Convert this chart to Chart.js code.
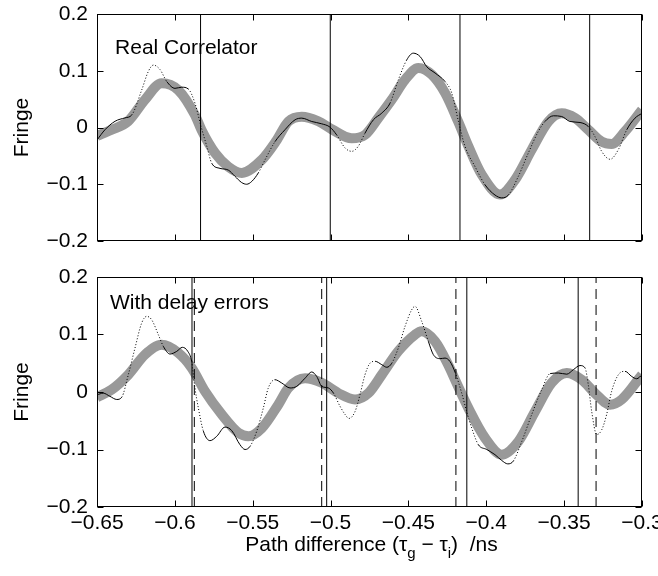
<!DOCTYPE html>
<html><head><meta charset="utf-8">
<script src="https://cdn.jsdelivr.net/npm/chart.js@4.4.1/dist/chart.umd.min.js"></script>
<style>
html,body{margin:0;padding:0;background:#fff;width:658px;height:576px;overflow:hidden}
#c1{position:absolute;left:0;top:0}
#c2{position:absolute;left:0;top:262px}
</style></head><body>
<canvas id="c1" width="658" height="262"></canvas>
<canvas id="c2" width="658" height="314"></canvas>
<script>
// ---------- data ----------
const xTicks = [-0.65,-0.6,-0.55,-0.5,-0.45,-0.4,-0.35,-0.3];
const yTicks = [-0.2,-0.1,0,0.1,0.2];
const xTitleParts = ['Path difference (τ','g',' − τ','i',')  /ns'];
const yTitle = 'Fringe';
const topLabel = 'Real Correlator';
const bottomLabel = 'With delay errors';

// top panel: model fringe (thick grey)
const topGray = [[-0.65,-0.015],[-0.6406,-0.004],[-0.63,0.011],[-0.6192,0.049],[-0.6085,0.078],[-0.5978,0.066],[-0.5871,0.022],[-0.5828,-0.005],[-0.5742,-0.045],[-0.5657,-0.069],[-0.557,-0.080],[-0.5442,-0.057],[-0.535,-0.024],[-0.5271,0.0106],[-0.5185,0.019],[-0.5079,0.011],[-0.4993,-0.003],[-0.4864,-0.019],[-0.4779,-0.013],[-0.4693,0.017],[-0.4607,0.049],[-0.4522,0.084],[-0.4436,0.105],[-0.435,0.093],[-0.4265,0.061],[-0.418,0.010],[-0.4115,-0.033],[-0.4029,-0.083],[-0.3912,-0.118],[-0.3815,-0.092],[-0.3708,-0.039],[-0.3601,0.0106],[-0.3516,0.025],[-0.343,0.0166],[-0.3345,-0.004],[-0.3259,-0.025],[-0.3195,-0.029],[-0.3109,-0.007],[-0.3,0.031]];
// top panel: correlator output (thin)
const topThin = [[-0.65,-0.022],[-0.6449,-0.004],[-0.6384,0.011],[-0.632,0.017],[-0.6277,0.022],[-0.6213,0.066],[-0.617,0.099],[-0.6138,0.110],[-0.6095,0.102],[-0.6052,0.081],[-0.5999,0.069],[-0.5956,0.071],[-0.5914,0.068],[-0.5871,0.043],[-0.5832,0.002],[-0.5795,-0.033],[-0.5763,-0.063],[-0.571,-0.072],[-0.5657,-0.075],[-0.5614,-0.086],[-0.5571,-0.097],[-0.5539,-0.100],[-0.5506,-0.095],[-0.5464,-0.080],[-0.5421,-0.057],[-0.5357,-0.025],[-0.5293,-0.004],[-0.5228,0.0136],[-0.5185,0.0165],[-0.5121,0.0106],[-0.5057,0.0065],[-0.5004,0.0007],[-0.4961,-0.013],[-0.4907,-0.036],[-0.4864,-0.042],[-0.4822,-0.033],[-0.4779,-0.010],[-0.4725,0.0136],[-0.4671,0.0254],[-0.4618,0.043],[-0.4565,0.084],[-0.4511,0.119],[-0.4469,0.131],[-0.4425,0.125],[-0.4382,0.107],[-0.4329,0.096],[-0.4265,0.081],[-0.4222,0.061],[-0.418,0.012],[-0.4137,-0.033],[-0.4072,-0.069],[-0.4008,-0.101],[-0.3944,-0.119],[-0.3901,-0.124],[-0.3858,-0.119],[-0.3794,-0.086],[-0.373,-0.045],[-0.3666,-0.007],[-0.3623,0.0106],[-0.3569,0.0206],[-0.3516,0.0194],[-0.3462,0.0106],[-0.3398,0.0088],[-0.3345,0.0018],[-0.3302,-0.016],[-0.3259,-0.042],[-0.3205,-0.056],[-0.3152,-0.039],[-0.3098,-0.004],[-0.3045,0.0165],[-0.3,0.025]];
const topSolidRanges = [[-0.65,-0.627],[-0.605,-0.59],[-0.575,-0.546],[-0.535,-0.497],[-0.478,-0.462],[-0.45,-0.425],[-0.4,-0.385],[-0.363,-0.333],[-0.31,-0.3]];
const topLines = [-0.5835,-0.5002,-0.4169,-0.3336];

// bottom panel
const botGray = [[-0.65,-0.009],[-0.6406,0.004],[-0.6299,0.030],[-0.6192,0.065],[-0.6085,0.082],[-0.5978,0.068],[-0.5892,0.042],[-0.5806,0.001],[-0.5699,-0.039],[-0.5592,-0.071],[-0.5528,-0.077],[-0.5442,-0.063],[-0.5336,-0.022],[-0.5271,0.007],[-0.5164,0.024],[-0.5057,0.016],[-0.495,-0.002],[-0.4843,-0.013],[-0.4757,-0.002],[-0.4671,0.030],[-0.4565,0.071],[-0.4458,0.0997],[-0.4415,0.1056],[-0.4329,0.088],[-0.4244,0.047],[-0.419,0.015],[-0.4115,-0.028],[-0.4008,-0.080],[-0.3901,-0.109],[-0.3794,-0.086],[-0.3687,-0.034],[-0.358,0.016],[-0.3483,0.033],[-0.3387,0.0214],[-0.3302,-0.002],[-0.3205,-0.022],[-0.313,-0.013],[-0.3,0.030]];
const botThin = [[-0.65,-0.005],[-0.646,-0.002],[-0.6417,-0.0075],[-0.6373,-0.013],[-0.6341,-0.009],[-0.6299,0.030],[-0.6256,0.0765],[-0.6213,0.12],[-0.6181,0.1316],[-0.6149,0.1257],[-0.6106,0.0997],[-0.6074,0.0794],[-0.6031,0.066],[-0.5988,0.0707],[-0.5952,0.0777],[-0.5917,0.0707],[-0.5892,0.053],[-0.5871,0.007],[-0.5849,-0.028],[-0.5817,-0.068],[-0.5774,-0.0846],[-0.5731,-0.077],[-0.5678,-0.061],[-0.5635,-0.067],[-0.5582,-0.0916],[-0.5549,-0.100],[-0.5517,-0.0945],[-0.5474,-0.068],[-0.5432,-0.028],[-0.54,0.007],[-0.5357,0.0214],[-0.5314,0.0157],[-0.526,0.007],[-0.5217,0.0099],[-0.5164,0.024],[-0.5121,0.0348],[-0.5089,0.027],[-0.5057,0.0099],[-0.5014,0.007],[-0.4982,-0.0017],[-0.4939,-0.025],[-0.4907,-0.039],[-0.4882,-0.046],[-0.4843,-0.034],[-0.4811,-0.0046],[-0.4779,0.030],[-0.4747,0.050],[-0.4714,0.0534],[-0.4671,0.0475],[-0.4639,0.043],[-0.4607,0.050],[-0.4565,0.0765],[-0.4522,0.114],[-0.4479,0.143],[-0.4458,0.149],[-0.4415,0.123],[-0.4372,0.088],[-0.434,0.065],[-0.4297,0.058],[-0.4265,0.059],[-0.4233,0.053],[-0.42,0.034],[-0.4158,-0.0017],[-0.4126,-0.034],[-0.4093,-0.063],[-0.4051,-0.0916],[-0.3997,-0.1],[-0.3944,-0.109],[-0.3901,-0.119],[-0.3862,-0.125],[-0.3826,-0.12],[-0.3772,-0.086],[-0.3708,-0.039],[-0.3644,0.004],[-0.359,0.032],[-0.3537,0.033],[-0.3483,0.031],[-0.344,0.039],[-0.3398,0.046],[-0.3366,0.042],[-0.3345,0.0127],[-0.3323,-0.034],[-0.3291,-0.074],[-0.3259,-0.066],[-0.3227,-0.039],[-0.3195,0.0012],[-0.3152,0.030],[-0.3109,0.036],[-0.3066,0.027],[-0.3034,0.023],[-0.3,0.030]];
const botSolidRanges = [[-0.65,-0.633],[-0.607,-0.59],[-0.58,-0.552],[-0.537,-0.497],[-0.473,-0.46],[-0.436,-0.418],[-0.407,-0.382],[-0.36,-0.336],[-0.312,-0.3]];
const botLinesSolid = [-0.589,-0.5025,-0.4125,-0.341];
const botLinesDashed = [-0.5875,-0.5057,-0.4195,-0.3295];

// ---------- helpers ----------
const FONT = '"Liberation Sans", Arial, Helvetica, sans-serif';
Chart.defaults.font.family = FONT;
const fmt = v => (v < 0 ? '\u2212' : '') + String(Math.abs(v));
const pts = arr => arr.map(p => ({x: p[0], y: p[1]}));
const dashFor = ranges => ctx => {
  const m = (ctx.p0.parsed.x + ctx.p1.parsed.x) / 2;
  return ranges.some(r => m >= r[0] && m <= r[1]) ? [] : [1, 2];
};
const vline = (v, dash) => ({
  data: [{x: v, y: -0.2}, {x: v, y: 0.2}],
  borderColor: '#000', borderWidth: 1, borderDash: dash || [],
  pointRadius: 0, tension: 0, order: 1
});

const decoPlugin = {
  id: 'deco',
  afterDatasetsDraw(chart, args, o) {
    const ctx = chart.ctx, a = chart.chartArea;
    const xs = chart.scales.x, ys = chart.scales.y;
    ctx.save();
    ctx.strokeStyle = '#000'; ctx.lineWidth = 1;
    const L = Math.round(a.left) + 0.5, R = Math.round(a.right) - 0.5;
    const T = Math.round(a.top) + 0.5, B = Math.round(a.bottom) - 0.5;
    ctx.strokeRect(L, T, R - L, B - T);
    const tl = 6;
    ctx.beginPath();
    xTicks.forEach(v => {
      const px = Math.round(xs.getPixelForValue(v)) + 0.5;
      ctx.moveTo(px, B); ctx.lineTo(px, B - tl);
      ctx.moveTo(px, T); ctx.lineTo(px, T + tl);
    });
    yTicks.forEach(v => {
      const py = Math.round(ys.getPixelForValue(v)) + 0.5;
      ctx.moveTo(L, py); ctx.lineTo(L + tl, py);
      ctx.moveTo(R, py); ctx.lineTo(R - tl, py);
    });
    ctx.stroke();
    // panel label
    ctx.fillStyle = '#000';
    ctx.font = '21px ' + FONT;
    ctx.textAlign = 'left'; ctx.textBaseline = 'alphabetic';
    ctx.fillText(o.label, xs.getPixelForValue(o.lx), ys.getPixelForValue(o.ly));
    // x title with subscripts
    if (o.xtitle) {
      const big = '21px ' + FONT, small = '15px ' + FONT;
      let w = 0;
      xTitleParts.forEach((t, i) => { ctx.font = (i % 2 ? small : big); w += ctx.measureText(t).width; });
      let x = (a.left + a.right) / 2 - w / 2 + o.xtitleDx;
      const base = o.xtitleY;
      xTitleParts.forEach((t, i) => {
        ctx.font = (i % 2 ? small : big);
        ctx.fillText(t, x, base + (i % 2 ? 7 : 0));
        x += ctx.measureText(t).width;
      });
    }
    ctx.restore();
  }
};

function makePanel(id, gray, thin, ranges, lines, label, lx, ly, bottom) {
  const canvas = document.getElementById(id);
  const H = canvas.height;
  const plotTop = bottom ? 15 : 14, plotBottom = bottom ? 245 : 241;
  const datasets = [
    { data: pts(thin), borderColor: '#000', borderWidth: 1, pointRadius: 0,
      cubicInterpolationMode: 'monotone', segment: { borderDash: dashFor(ranges) }, order: 0 },
    ...lines,
    { data: pts(gray), borderColor: '#999999', borderWidth: 10, pointRadius: 0,
      cubicInterpolationMode: 'monotone', borderCapStyle: 'butt', borderJoinStyle: 'round', order: 2 }
  ];
  return new Chart(canvas, {
    type: 'line',
    data: { datasets },
    plugins: [decoPlugin],
    options: {
      responsive: false, animation: false, events: [],
      layout: { padding: { left: 0, right: 16, top: plotTop, bottom: 0 } },
      plugins: {
        legend: { display: false }, tooltip: { enabled: false },
        deco: { label, lx, ly, xtitle: bottom, xtitleY: 289, xtitleDx: 2 }
      },
      scales: {
        x: {
          type: 'linear', min: -0.65, max: -0.3,
          afterBuildTicks: s => { s.ticks = xTicks.map(v => ({ value: v })); },
          afterFit: s => { s.height = H - plotBottom; s.paddingLeft = 0; s.paddingRight = 0; },
          grid: { display: false, drawTicks: false }, border: { display: false },
          ticks: { display: bottom, color: '#000', padding: 4, maxRotation: 0, autoSkip: false,
                   font: { size: 21 }, callback: v => fmt(v) }
        },
        y: {
          type: 'linear', min: -0.2, max: 0.2,
          afterBuildTicks: s => { s.ticks = yTicks.map(v => ({ value: v })); },
          afterFit: s => { s.width = 97; s.paddingTop = 0; s.paddingBottom = 0; },
          grid: { display: false, drawTicks: false }, border: { display: false },
          ticks: { color: '#000', padding: 9, font: { size: 21 }, callback: v => fmt(v) },
          title: { display: true, text: yTitle, color: '#000', font: { size: 21 }, padding: { top: 10, bottom: 0 } }
        }
      }
    }
  });
}

makePanel('c1', topGray, topThin, topSolidRanges,
  topLines.map(v => vline(v)), topLabel, -0.6384, 0.13, false);
makePanel('c2', botGray, botThin, botSolidRanges,
  [...botLinesSolid.map(v => vline(v)), ...botLinesDashed.map(v => vline(v, [10, 6]))],
  bottomLabel, -0.6417, 0.145, true);
</script>
</body></html>
